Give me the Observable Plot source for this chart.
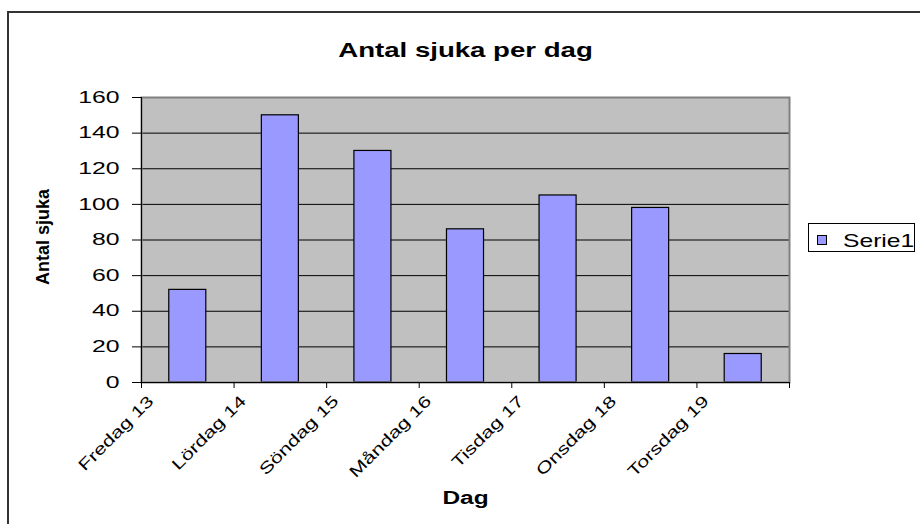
<!DOCTYPE html>
<html>
<head>
<meta charset="utf-8">
<script src="https://cdn.jsdelivr.net/npm/d3@7"></script>
<script src="https://cdn.jsdelivr.net/npm/@observablehq/plot@0.6"></script>
<style>
  html, body { margin: 0; padding: 0; background: #fff; overflow: hidden; width: 920px; height: 524px; }
  #wrap { position: relative; width: 920px; height: 524px; overflow: hidden; }
  #border { position: absolute; left: 7px; top: 11px; width: 1000px; height: 1000px; border: 2px solid #333; box-sizing: border-box; pointer-events: none; }
  #chart { position: absolute; left: 0; top: 0; }
  #legend { position: absolute; left: 808px; top: 223px; }
</style>
</head>
<body>
<div id="wrap">
  <div id="border"></div>
  <div id="chart"></div>
  <svg id="legend" width="108" height="30"></svg>
</div>
<script>
// ---- data ----
const days = ["Fredag 13", "Lördag 14", "Söndag 15", "Måndag 16", "Tisdag 17", "Onsdag 18", "Torsdag 19"];
const sick = [52, 150, 130, 86, 105, 98, 16];
const yTicks = [0, 20, 40, 60, 80, 100, 120, 140, 160];
const seriesName = "Serie1";
const chartTitle = "Antal sjuka per dag";
const xTitle = "Dag";
const yTitle = "Antal sjuka";

// ---- layout ----
const W = 920, H = 524, mL = 141, mR = 131, mT = 97, mB = 142;
const step = (W - mL - mR) / days.length;
const font = '"Liberation Sans", Arial, sans-serif';

const data = days.map((d, i) => ({day: d, value: sick[i]}));

const plot = Plot.plot({
  width: W, height: H,
  marginLeft: mL, marginRight: mR, marginTop: mT, marginBottom: mB,
  style: {fontFamily: font, fontSize: "16px", color: "#000", background: "transparent", overflow: "visible"},
  x: {type: "band", domain: days, paddingInner: 0.6, paddingOuter: 0.3, round: false, label: null},
  y: {domain: [0, 160], label: null},
  marks: [
    Plot.frame({fill: "#C0C0C0", stroke: null}),
    Plot.gridY(yTicks, {stroke: "#000", strokeOpacity: 1, strokeWidth: 1}),
    Plot.barY(data, {x: "day", y: "value", fill: "#9999FF", stroke: "#000", strokeWidth: 1.2}),
    Plot.frame({stroke: "#808080", strokeWidth: 2}),
    Plot.ruleY([0], {stroke: "#000", strokeWidth: 1}),
    Plot.frame({anchor: "left", stroke: "#000", strokeWidth: 1}),
    Plot.axisY(yTicks, {tickSize: 9, tickPadding: 13, fontSize: 16, label: null}),
    Plot.axisX(days, {tickSize: 6, tickFormat: () => "", dx: -step / 2, label: null}),
    Plot.axisX([days[days.length - 1]], {tickSize: 6, tickFormat: () => "", dx: step / 2, label: null}),
    Plot.axisX(days, {tickSize: 0, tickRotate: -45, tickPadding: 16, dx: -37, fontSize: 16, label: null}),
    Plot.text([chartTitle], {text: d => d, frameAnchor: "top", dy: -55, fontSize: 20, fontWeight: "bold"}),
    Plot.text([xTitle], {text: d => d, frameAnchor: "bottom", dy: 121, fontSize: 17.6, fontWeight: "bold"}),
    Plot.text([yTitle], {text: d => d, frameAnchor: "left", textAnchor: "middle", dx: -98, dy: -3, rotate: -90, fontSize: 18, fontWeight: "bold"})
  ]
});
document.getElementById("chart").appendChild(plot);

// stretch glyphs along their baseline to match the reference's wide lettering
function stretch(el, s) {
  if (s === 1) return;
  const ax = el.x && el.x.baseVal.numberOfItems ? el.x.baseVal.getItem(0).value : 0;
  const ay = el.y && el.y.baseVal.numberOfItems ? el.y.baseVal.getItem(0).value : 0;
  const t = el.getAttribute("transform") || "";
  el.setAttribute("transform", `${t} translate(${ax},${ay}) scale(${s},1) translate(${-ax},${-ay})`);
}
plot.querySelectorAll("text").forEach(el => {
  const s = el.textContent;
  if (yTicks.map(String).includes(s)) stretch(el, 1.55);
  else if (days.includes(s)) stretch(el, 1.35);
  else if (s === chartTitle) stretch(el, 1.38);
  else if (s === xTitle) stretch(el, 1.39);
});

// legend
const lg = d3.select("#legend");
lg.append("rect").attr("x", 0.5).attr("y", 0.5).attr("width", 106).attr("height", 28)
  .attr("fill", "#fff").attr("stroke", "#000");
lg.append("rect").attr("x", 9.5).attr("y", 12.5).attr("width", 9).attr("height", 9)
  .attr("fill", "#9999FF").attr("stroke", "#000");
lg.append("text").attr("x", 35).attr("y", 24).attr("font-family", font).attr("font-size", 18)
  .attr("transform", "translate(35,0) scale(1.37,1) translate(-35,0)")
  .text(seriesName);
</script>
</body>
</html>
